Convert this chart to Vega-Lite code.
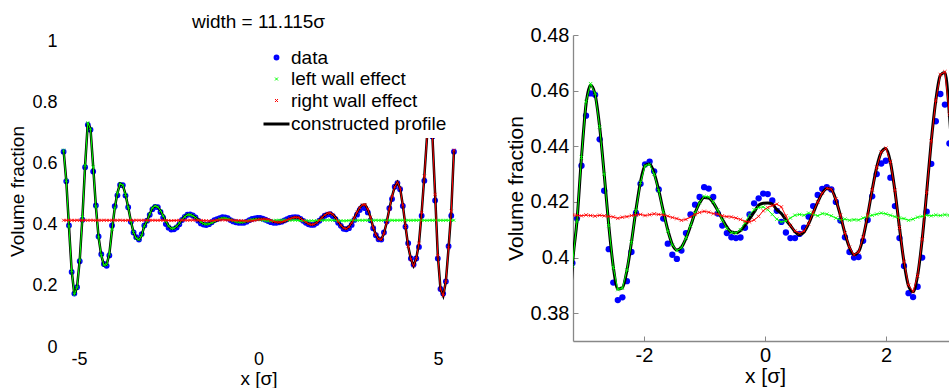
{
"$schema": "https://vega.github.io/schema/vega-lite/v6.json",
"padding": {"left": 8, "top": 12, "right": 0, "bottom": 0},
"background": "white",
"config": {"view": {"stroke": null}, "font": "Liberation Sans", "axis": {"grid": false, "labelFont": "Liberation Sans", "titleFont": "Liberation Sans", "titleFontWeight": "normal", "labelColor": "#000", "titleColor": "#000"}},
"resolve": {"scale": {"x": "independent", "y": "independent", "color": "independent", "shape": "independent", "size": "independent", "strokeWidth": "independent"}, "legend": {"color": "independent", "shape": "independent", "size": "independent", "strokeWidth": "independent"}},
"spacing": 47,
"data": {"values": [
{"x":-5.43,"data":0.640,"profile":0.645,"left":0.645,"right":0.4153},
{"x":-5.355,"data":0.543,"profile":0.545,"left":0.545,"right":0.4150},
{"x":-5.28,"data":0.398,"profile":0.395,"left":0.395,"right":0.4155},
{"x":-5.205,"data":0.246,"profile":0.250,"left":0.250,"right":0.4152},
{"x":-5.13,"data":0.175,"profile":0.172,"left":0.172,"right":0.4149},
{"x":-5.055,"data":0.196,"profile":0.195,"left":0.195,"right":0.4154},
{"x":-4.98,"data":0.281,"profile":0.285,"left":0.285,"right":0.4151},
{"x":-4.905,"data":0.417,"profile":0.425,"left":0.425,"right":0.4148},
{"x":-4.83,"data":0.589,"profile":0.595,"left":0.595,"right":0.4153},
{"x":-4.755,"data":0.728,"profile":0.735,"left":0.735,"right":0.4150},
{"x":-4.68,"data":0.712,"profile":0.715,"left":0.715,"right":0.4155},
{"x":-4.605,"data":0.575,"profile":0.590,"left":0.590,"right":0.4151},
{"x":-4.53,"data":0.464,"profile":0.460,"left":0.460,"right":0.4148},
{"x":-4.455,"data":0.362,"profile":0.360,"left":0.360,"right":0.4153},
{"x":-4.38,"data":0.304,"profile":0.300,"left":0.300,"right":0.4150},
{"x":-4.305,"data":0.272,"profile":0.268,"left":0.268,"right":0.4154},
{"x":-4.23,"data":0.266,"profile":0.270,"left":0.270,"right":0.4151},
{"x":-4.155,"data":0.300,"profile":0.305,"left":0.305,"right":0.4149},
{"x":-4.08,"data":0.398,"profile":0.385,"left":0.385,"right":0.4153},
{"x":-4.005,"data":0.461,"profile":0.455,"left":0.455,"right":0.4150},
{"x":-3.93,"data":0.497,"profile":0.505,"left":0.505,"right":0.4152},
{"x":-3.855,"data":0.531,"profile":0.535,"left":0.535,"right":0.4155},
{"x":-3.78,"data":0.530,"profile":0.530,"left":0.530,"right":0.4150},
{"x":-3.705,"data":0.496,"profile":0.500,"left":0.500,"right":0.4148},
{"x":-3.63,"data":0.458,"profile":0.458,"left":0.458,"right":0.4153},
{"x":-3.555,"data":0.410,"profile":0.412,"left":0.412,"right":0.4151},
{"x":-3.48,"data":0.375,"profile":0.375,"left":0.375,"right":0.4149},
{"x":-3.405,"data":0.360,"profile":0.356,"left":0.356,"right":0.4154},
{"x":-3.33,"data":0.352,"profile":0.352,"left":0.352,"right":0.4152},
{"x":-3.255,"data":0.370,"profile":0.365,"left":0.365,"right":0.4150},
{"x":-3.18,"data":0.398,"profile":0.397,"left":0.397,"right":0.4153},
{"x":-3.105,"data":0.414,"profile":0.413,"left":0.413,"right":0.4152},
{"x":-3.03,"data":0.433,"profile":0.436,"left":0.436,"right":0.4150},
{"x":-2.955,"data":0.451,"profile":0.455,"left":0.456,"right":0.4153},
{"x":-2.88,"data":0.459,"profile":0.462,"left":0.4625,"right":0.4151},
{"x":-2.805,"data":0.4585,"profile":0.4586,"left":0.459,"right":0.4149},
{"x":-2.73,"data":0.4425,"profile":0.447,"left":0.447,"right":0.4152},
{"x":-2.655,"data":0.424,"profile":0.430,"left":0.430,"right":0.4150},
{"x":-2.58,"data":0.403,"profile":0.4117,"left":0.4115,"right":0.4148},
{"x":-2.505,"data":0.391,"profile":0.3967,"left":0.3965,"right":0.4146},
{"x":-2.43,"data":0.3847,"profile":0.3887,"left":0.3885,"right":0.4141},
{"x":-2.355,"data":0.3857,"profile":0.3891,"left":0.389,"right":0.4145},
{"x":-2.28,"data":0.3915,"profile":0.3953,"left":0.3955,"right":0.4147},
{"x":-2.205,"data":0.402,"profile":0.4055,"left":0.4055,"right":0.4151},
{"x":-2.13,"data":0.416,"profile":0.4172,"left":0.417,"right":0.4153},
{"x":-2.055,"data":0.4265,"profile":0.4273,"left":0.427,"right":0.4155},
{"x":-1.98,"data":0.4335,"profile":0.4331,"left":0.433,"right":0.4151},
{"x":-1.905,"data":0.4345,"profile":0.4336,"left":0.4335,"right":0.4154},
{"x":-1.83,"data":0.431,"profile":0.4303,"left":0.430,"right":0.4157},
{"x":-1.755,"data":0.4245,"profile":0.4242,"left":0.424,"right":0.4155},
{"x":-1.68,"data":0.414,"profile":0.4168,"left":0.4165,"right":0.4153},
{"x":-1.605,"data":0.405,"profile":0.4099,"left":0.4095,"right":0.4149},
{"x":-1.53,"data":0.401,"profile":0.4047,"left":0.4045,"right":0.4144},
{"x":-1.455,"data":0.3995,"profile":0.4027,"left":0.4025,"right":0.4140},
{"x":-1.38,"data":0.4025,"profile":0.4037,"left":0.4035,"right":0.4134},
{"x":-1.305,"data":0.4088,"profile":0.4069,"left":0.407,"right":0.4137},
{"x":-1.23,"data":0.4155,"profile":0.4113,"left":0.4115,"right":0.4146},
{"x":-1.155,"data":0.419,"profile":0.416,"left":0.416,"right":0.4155},
{"x":-1.08,"data":0.4218,"profile":0.4196,"left":0.4198,"right":0.4162},
{"x":-1.005,"data":0.4253,"profile":0.4216,"left":0.422,"right":0.4166},
{"x":-0.93,"data":0.4248,"profile":0.4214,"left":0.4218,"right":0.4163},
{"x":-0.855,"data":0.4218,"profile":0.4197,"left":0.420,"right":0.4158},
{"x":-0.78,"data":0.4158,"profile":0.4169,"left":0.417,"right":0.4156},
{"x":-0.705,"data":0.4115,"profile":0.4138,"left":0.4135,"right":0.4150},
{"x":-0.63,"data":0.4088,"profile":0.411,"left":0.4105,"right":0.4147},
{"x":-0.555,"data":0.4073,"profile":0.4092,"left":0.409,"right":0.4146},
{"x":-0.48,"data":0.407,"profile":0.4089,"left":0.4088,"right":0.4142},
{"x":-0.405,"data":0.4072,"profile":0.4097,"left":0.410,"right":0.4137},
{"x":-0.33,"data":0.4107,"profile":0.4116,"left":0.4125,"right":0.4130},
{"x":-0.255,"data":0.4155,"profile":0.414,"left":0.4155,"right":0.4128},
{"x":-0.18,"data":0.4195,"profile":0.4163,"left":0.4172,"right":0.4135},
{"x":-0.105,"data":0.4213,"profile":0.4188,"left":0.418,"right":0.4148},
{"x":-0.03,"data":0.4230,"profile":0.4195,"left":0.4182,"right":0.4168},
{"x":0.045,"data":0.4228,"profile":0.4196,"left":0.4172,"right":0.4180},
{"x":0.12,"data":0.4205,"profile":0.4192,"left":0.4155,"right":0.4187},
{"x":0.195,"data":0.4168,"profile":0.4172,"left":0.4138,"right":0.4192},
{"x":0.27,"data":0.4128,"profile":0.4158,"left":0.4128,"right":0.4182},
{"x":0.345,"data":0.409,"profile":0.4135,"left":0.4132,"right":0.4150},
{"x":0.42,"data":0.407,"profile":0.4115,"left":0.4142,"right":0.4115},
{"x":0.495,"data":0.407,"profile":0.4093,"left":0.4152,"right":0.4095},
{"x":0.57,"data":0.4085,"profile":0.4082,"left":0.4155,"right":0.4088},
{"x":0.645,"data":0.4107,"profile":0.4092,"left":0.4152,"right":0.4095},
{"x":0.72,"data":0.4147,"profile":0.4121,"left":0.416,"right":0.4122},
{"x":0.795,"data":0.4185,"profile":0.416,"left":0.4156,"right":0.4162},
{"x":0.87,"data":0.4225,"profile":0.4199,"left":0.415,"right":0.420},
{"x":0.945,"data":0.4247,"profile":0.4231,"left":0.4158,"right":0.4232},
{"x":1.02,"data":0.4253,"profile":0.4248,"left":0.4156,"right":0.4249},
{"x":1.095,"data":0.4245,"profile":0.4244,"left":0.415,"right":0.4246},
{"x":1.17,"data":0.420,"profile":0.4208,"left":0.4142,"right":0.421},
{"x":1.245,"data":0.4133,"profile":0.4151,"left":0.4135,"right":0.4153},
{"x":1.32,"data":0.4073,"profile":0.4087,"left":0.4138,"right":0.4088},
{"x":1.395,"data":0.402,"profile":0.4036,"left":0.4134,"right":0.4037},
{"x":1.47,"data":0.400,"profile":0.401,"left":0.4136,"right":0.401},
{"x":1.545,"data":0.4002,"profile":0.4021,"left":0.4135,"right":0.402},
{"x":1.62,"data":0.406,"profile":0.4072,"left":0.4142,"right":0.4073},
{"x":1.695,"data":0.4135,"profile":0.4152,"left":0.4148,"right":0.4153},
{"x":1.77,"data":0.422,"profile":0.4244,"left":0.4152,"right":0.4243},
{"x":1.845,"data":0.430,"profile":0.4325,"left":0.4156,"right":0.4325},
{"x":1.92,"data":0.4338,"profile":0.4379,"left":0.416,"right":0.438},
{"x":1.995,"data":0.4348,"profile":0.4392,"left":0.4157,"right":0.4393},
{"x":2.07,"data":0.4287,"profile":0.4344,"left":0.4152,"right":0.4345},
{"x":2.145,"data":0.4185,"profile":0.424,"left":0.4147,"right":0.4242},
{"x":2.22,"data":0.407,"profile":0.4108,"left":0.4142,"right":0.4108},
{"x":2.295,"data":0.397,"profile":0.3983,"left":0.414,"right":0.3985},
{"x":2.37,"data":0.3872,"profile":0.3898,"left":0.4134,"right":0.39},
{"x":2.445,"data":0.3858,"profile":0.3877,"left":0.4138,"right":0.3878},
{"x":2.52,"data":0.3895,"profile":0.3936,"left":0.4145,"right":0.3935},
{"x":2.595,"data":0.400,"profile":0.4065,"left":0.4148,"right":0.4065},
{"x":2.67,"data":0.4165,"profile":0.4236,"left":0.4152,"right":0.4235},
{"x":2.745,"data":0.4337,"profile":0.4418,"left":0.415,"right":0.4418},
{"x":2.82,"data":0.449,"profile":0.4565,"left":0.4153,"right":0.4565},
{"x":2.895,"data":0.4588,"profile":0.4655,"left":0.4151,"right":0.4658},
{"x":2.97,"data":0.455,"profile":0.4665,"left":0.4154,"right":0.4668},
{"x":3.045,"data":0.441,"profile":0.4513,"left":0.4152,"right":0.4515},
{"x":3.12,"data":0.415,"profile":0.4249,"left":0.4153,"right":0.425},
{"x":3.195,"data":0.389,"profile":0.392,"left":0.4150,"right":0.392},
{"x":3.27,"data":0.366,"profile":0.368,"left":0.4154,"right":0.368},
{"x":3.345,"data":0.353,"profile":0.354,"left":0.4151,"right":0.354},
{"x":3.42,"data":0.352,"profile":0.352,"left":0.4149,"right":0.352},
{"x":3.495,"data":0.375,"profile":0.372,"left":0.4153,"right":0.372},
{"x":3.57,"data":0.411,"profile":0.408,"left":0.4150,"right":0.408},
{"x":3.645,"data":0.455,"profile":0.452,"left":0.4155,"right":0.452},
{"x":3.72,"data":0.485,"profile":0.493,"left":0.4152,"right":0.493},
{"x":3.795,"data":0.525,"profile":0.525,"left":0.4148,"right":0.525},
{"x":3.87,"data":0.537,"profile":0.540,"left":0.4153,"right":0.540},
{"x":3.945,"data":0.517,"profile":0.520,"left":0.4151,"right":0.520},
{"x":4.02,"data":0.462,"profile":0.465,"left":0.4154,"right":0.465},
{"x":4.095,"data":0.394,"profile":0.395,"left":0.4150,"right":0.395},
{"x":4.17,"data":0.340,"profile":0.330,"left":0.4152,"right":0.330},
{"x":4.245,"data":0.290,"profile":0.288,"left":0.4149,"right":0.288},
{"x":4.32,"data":0.270,"profile":0.266,"left":0.4153,"right":0.266},
{"x":4.395,"data":0.290,"profile":0.290,"left":0.4151,"right":0.290},
{"x":4.47,"data":0.328,"profile":0.340,"left":0.4155,"right":0.340},
{"x":4.545,"data":0.430,"profile":0.440,"left":0.4150,"right":0.440},
{"x":4.62,"data":0.545,"profile":0.560,"left":0.4152,"right":0.560},
{"x":4.695,"data":0.700,"profile":0.690,"left":0.4148,"right":0.690},
{"x":4.77,"data":0.730,"profile":0.740,"left":0.4153,"right":0.740},
{"x":4.845,"data":0.690,"profile":0.690,"left":0.4151,"right":0.690},
{"x":4.92,"data":0.480,"profile":0.500,"left":0.4154,"right":0.500},
{"x":4.995,"data":0.290,"profile":0.300,"left":0.4150,"right":0.300},
{"x":5.07,"data":0.190,"profile":0.190,"left":0.4152,"right":0.190},
{"x":5.145,"data":0.175,"profile":0.168,"left":0.4149,"right":0.168},
{"x":5.22,"data":0.215,"profile":0.215,"left":0.4153,"right":0.215},
{"x":5.295,"data":0.330,"profile":0.325,"left":0.4151,"right":0.325},
{"x":5.37,"data":0.430,"profile":0.445,"left":0.4154,"right":0.445},
{"x":5.445,"data":0.640,"profile":0.645,"left":0.4152,"right":0.645}
]},
"hconcat": [
{
"width": 399, "height": 312,
"title": {"text": "width = 11.115σ", "fontSize": 19, "fontWeight": "normal", "font": "Liberation Sans", "offset": 1, "anchor": "middle", "color": "#000"},
"layer": [
{"mark": {"type": "point", "filled": false, "opacity": 1, "clip": true},
 "transform": [{"fold": ["data"], "as": ["series", "v"]}],
 "encoding": {
  "x": {"field": "x", "type": "quantitative", "title": "x [σ]", "scale": {"domain": [-5.5575, 5.5575], "nice": false, "zero": false},
        "axis": {"values": [-5, 0, 5], "domain": false, "ticks": false, "tickSize": 0, "labelFontSize": 18, "labelPadding": 3, "titleFontSize": 19, "titlePadding": 1, "labelExpr": "replace(datum.label, '−', '-')"}},
  "y": {"field": "v", "type": "quantitative", "title": "Volume fraction", "scale": {"domain": [0, 1.0223], "nice": false, "zero": false},
        "axis": {"values": [0, 0.2, 0.4, 0.6, 0.8, 1], "format": ".1~f", "domain": false, "ticks": false, "tickSize": 0, "labelFontSize": 18, "labelPadding": 2, "titleFontSize": 19, "titlePadding": 4}},
  "color": {"field": "series", "type": "nominal",
   "scale": {"domain": ["data", "left wall effect", "right wall effect", "constructed profile"], "range": ["#0000ff", "#00ff00", "#ff0000", "#000000"]},
   "legend": {"orient": "none", "legendX": 202, "legendY": 9, "title": null, "fillColor": "white", "padding": 4, "labelFontSize": 19, "labelFont": "Liberation Sans", "labelColor": "#000", "labelOffset": 3, "rowPadding": 1.5}},
  "shape": {"field": "series", "type": "nominal",
   "scale": {"domain": ["data", "left wall effect", "right wall effect", "constructed profile"], "range": ["circle", "M-1,-1L1,1M-1,1L1,-1", "M-1,-1L1,1M-1,1L1,-1", "M-1.3,0L1.3,0"]},
   "legend": {"orient": "none", "legendX": 202, "legendY": 9, "title": null, "fillColor": "white", "padding": 4, "labelFontSize": 19, "labelFont": "Liberation Sans", "labelColor": "#000", "labelOffset": 3, "rowPadding": 1.5}},
  "size": {"field": "series", "type": "nominal",
   "scale": {"type": "ordinal", "domain": ["data", "left wall effect", "right wall effect", "constructed profile"], "range": [10, 9, 9, 400]},
   "legend": {"orient": "none", "legendX": 202, "legendY": 9, "title": null, "fillColor": "white", "padding": 4, "labelFontSize": 19, "labelFont": "Liberation Sans", "labelColor": "#000", "labelOffset": 3, "rowPadding": 1.5}},
  "strokeWidth": {"field": "series", "type": "nominal",
   "scale": {"type": "ordinal", "domain": ["data", "left wall effect", "right wall effect", "constructed profile"], "range": [2.7, 1, 1, 3]},
   "legend": {"orient": "none", "legendX": 202, "legendY": 9, "title": null, "fillColor": "white", "padding": 4, "labelFontSize": 19, "labelFont": "Liberation Sans", "labelColor": "#000", "labelOffset": 3, "rowPadding": 1.5}}
 }},
{"mark": {"type": "line", "color": "#000000", "strokeWidth": 2.5, "clip": true},
 "encoding": {"x": {"field": "x", "type": "quantitative", "title": "x [σ]"}, "y": {"field": "profile", "type": "quantitative", "title": "Volume fraction"}}},
{"mark": {"type": "line", "color": "#00ff00", "strokeWidth": 1, "clip": true},
 "encoding": {"x": {"field": "x", "type": "quantitative", "title": "x [σ]"}, "y": {"field": "left", "type": "quantitative", "title": "Volume fraction"}}},
{"mark": {"type": "point", "shape": "M-1,-1L1,1M-1,1L1,-1", "size": 9, "filled": false, "color": "#00ff00", "strokeWidth": 0.8, "opacity": 1, "clip": true},
 "encoding": {"x": {"field": "x", "type": "quantitative", "title": "x [σ]"}, "y": {"field": "left", "type": "quantitative", "title": "Volume fraction"}}},
{"mark": {"type": "line", "color": "#ff0000", "strokeWidth": 1, "clip": true},
 "encoding": {"x": {"field": "x", "type": "quantitative", "title": "x [σ]"}, "y": {"field": "right", "type": "quantitative", "title": "Volume fraction"}}},
{"mark": {"type": "point", "shape": "M-1,-1L1,1M-1,1L1,-1", "size": 9, "filled": false, "color": "#ff0000", "strokeWidth": 0.8, "opacity": 1, "clip": true},
 "encoding": {"x": {"field": "x", "type": "quantitative", "title": "x [σ]"}, "y": {"field": "right", "type": "quantitative", "title": "Volume fraction"}}}
]
},
{
"width": 384, "height": 306,
"transform": [{"filter": "datum.x > -3.3 && datum.x < 3.3"}],
"layer": [
{"mark": {"type": "point", "filled": true, "size": 40, "opacity": 1, "color": "#0000ff", "clip": true},
 "encoding": {
  "x": {"field": "x", "type": "quantitative", "title": "x [σ]", "scale": {"domain": [-3.17, 3.17], "nice": false, "zero": false},
        "axis": {"values": [-2, 0, 2], "format": "~g", "domainColor": "#888888", "domainWidth": 1.3, "tickColor": "#888888", "tickSize": -5, "labelFontSize": 20, "labelPadding": 9, "titleFontSize": 21, "titlePadding": 0, "labelExpr": "replace(datum.label, '−', '-')"}},
  "y": {"field": "data", "type": "quantitative", "title": "Volume fraction", "scale": {"domain": [0.37, 0.48], "nice": false, "zero": false},
        "axis": {"values": [0.38, 0.4, 0.42, 0.44, 0.46, 0.48], "format": ".2~f", "domainColor": "#888888", "domainWidth": 1.3, "tickColor": "#888888", "tickSize": -5, "labelFontSize": 20, "labelPadding": 9, "titleFontSize": 21, "titlePadding": 4}}
 }},
{"mark": {"type": "line", "color": "#000000", "strokeWidth": 3, "clip": true, "interpolate": "monotone"},
 "encoding": {"x": {"field": "x", "type": "quantitative", "title": "x [σ]"}, "y": {"field": "profile", "type": "quantitative", "title": "Volume fraction"}}},
{"mark": {"type": "line", "color": "#00ff00", "strokeWidth": 1, "clip": true},
 "encoding": {"x": {"field": "x", "type": "quantitative", "title": "x [σ]"}, "y": {"field": "left", "type": "quantitative", "title": "Volume fraction"}}},
{"mark": {"type": "point", "shape": "M-1,-1L1,1M-1,1L1,-1", "size": 12, "filled": false, "color": "#00ff00", "strokeWidth": 0.8, "opacity": 1, "clip": true},
 "encoding": {"x": {"field": "x", "type": "quantitative", "title": "x [σ]"}, "y": {"field": "left", "type": "quantitative", "title": "Volume fraction"}}},
{"mark": {"type": "line", "color": "#ff0000", "strokeWidth": 1, "clip": true},
 "encoding": {"x": {"field": "x", "type": "quantitative", "title": "x [σ]"}, "y": {"field": "right", "type": "quantitative", "title": "Volume fraction"}}},
{"mark": {"type": "point", "shape": "M-1,-1L1,1M-1,1L1,-1", "size": 12, "filled": false, "color": "#ff0000", "strokeWidth": 0.8, "opacity": 1, "clip": true},
 "encoding": {"x": {"field": "x", "type": "quantitative", "title": "x [σ]"}, "y": {"field": "right", "type": "quantitative", "title": "Volume fraction"}}}
]
}
]
}
